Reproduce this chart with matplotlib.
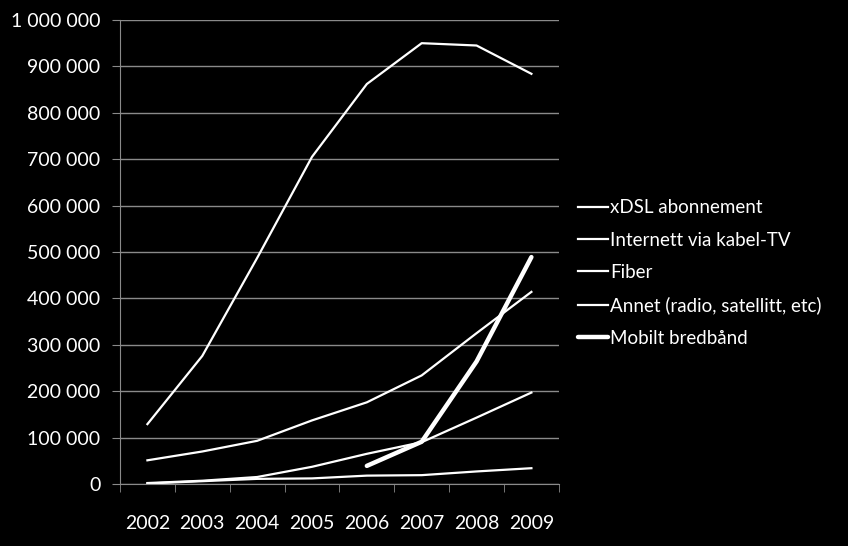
import matplotlib.pyplot as plt
from matplotlib.ticker import FuncFormatter

years = ["2002", "2003", "2004", "2005", "2006", "2007", "2008", "2009"]
xdsl = [129000, 276000, 487000, 705000, 862000, 950000, 945000, 884000]
kabel_tv = [51000, 70000, 93000, 137000, 176000, 234000, 325000, 414000]
fiber = [2000, 7000, 15000, 37000, 65000, 90000, 143000, 197000]
annet = [1000, 6000, 11000, 12000, 18000, 19000, 27000, 34000]
mobilt_years = ["2006", "2007", "2008", "2009"]
mobilt = [39000, 91000, 264000, 489000]

plt.rcParams['font.family'] = ['Lato', 'DejaVu Sans']

fig = plt.figure(figsize=(8.48, 5.46), dpi=100, facecolor="black")
ax = fig.add_axes([0.1415, 0.1136, 0.659 - 0.1415, 0.9634 - 0.1136])
ax.set_facecolor("black")

x = list(range(len(years)))
xm = [years.index(y) for y in mobilt_years]

ax.plot(x, xdsl, color="white", lw=1.6, label="xDSL abonnement")
ax.plot(x, kabel_tv, color="white", lw=1.6, label="Internett via kabel-TV")
ax.plot(x, fiber, color="white", lw=1.6, label="Fiber")
ax.plot(x, annet, color="white", lw=1.6, label="Annet (radio, satellitt, etc)")
ax.plot(xm, mobilt, color="white", lw=3.2, solid_capstyle="round", label="Mobilt bredbånd")

ax.set_xlim(-0.5, len(years) - 0.5)
ax.set_ylim(0, 1000000)
ax.set_yticks(range(0, 1000001, 100000))
ax.yaxis.set_major_formatter(FuncFormatter(lambda v, p: f"{int(v):,}".replace(",", " ")))
ax.grid(axis="y", color="#8a8a8a", lw=1)
ax.set_axisbelow(True)

ax.set_xticks(x)
ax.set_xticklabels(years)
ax.set_xticks([i - 0.5 for i in range(len(years) + 1)], minor=True)
ax.tick_params(axis="x", which="major", length=0, pad=22, colors="white", labelsize=14)
ax.tick_params(axis="x", which="minor", length=6, color="#8a8a8a", direction="out")
ax.tick_params(axis="y", length=6, color="#8a8a8a", pad=8, colors="white", labelsize=14)

for s in ["top", "right"]:
    ax.spines[s].set_visible(False)
for s in ["left", "bottom"]:
    ax.spines[s].set_color("#8a8a8a")

leg = ax.legend(loc="center left", bbox_to_anchor=(1.0, 0.455), frameon=False,
                fontsize=13.5, handlelength=1.6, handletextpad=0.15, labelspacing=0.82,
                borderaxespad=0.6)
for t in leg.get_texts():
    t.set_color("white")

fig.savefig("out.png", dpi=100, facecolor="black")
